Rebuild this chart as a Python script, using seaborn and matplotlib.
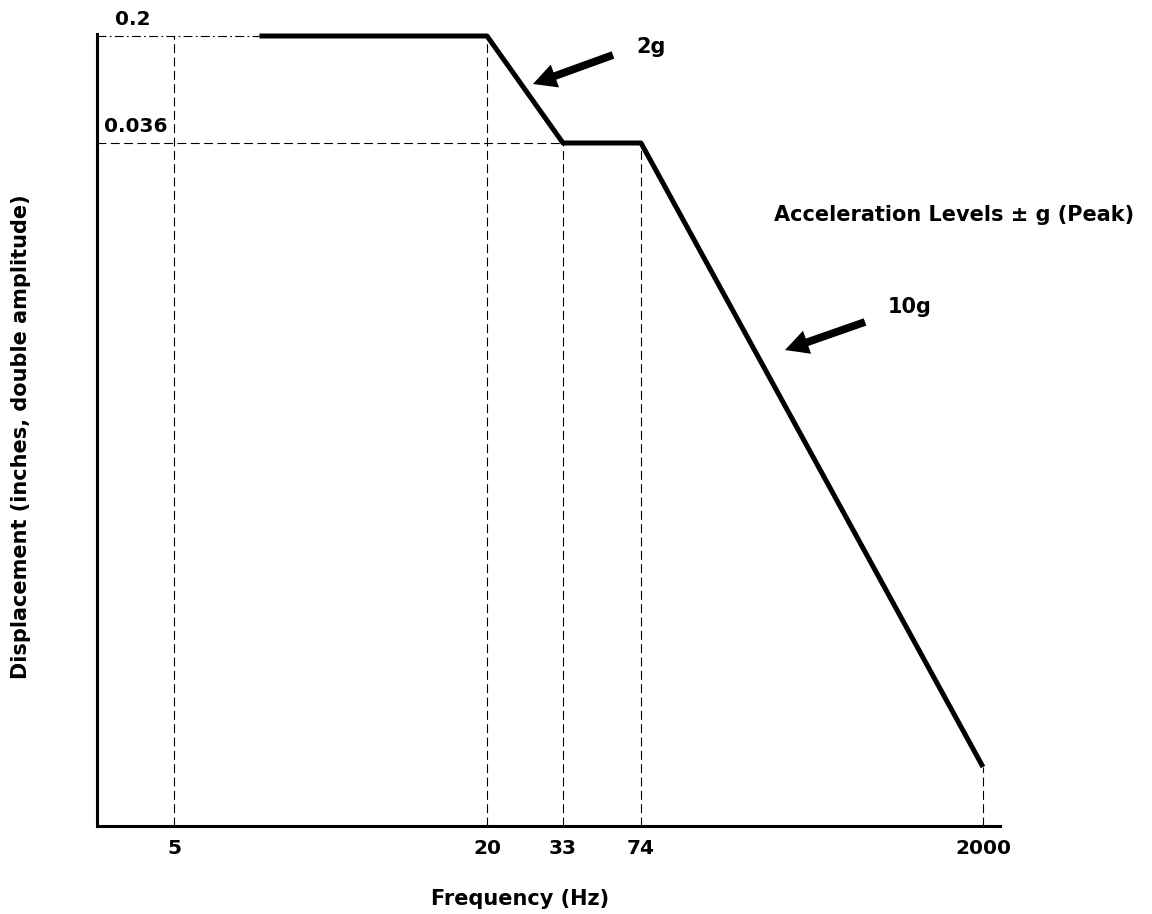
import numpy as np
import seaborn as sns
import matplotlib.pyplot as plt

# vibration test envelope (schematic, axes are not to scale)
freq = [7.3, 20, 33, 74, 2000]                      # Hz
disp = [0.2, 0.2, 0.036, 0.036, 4.89e-5]            # inches, double amplitude
tick_freq = [5, 20, 33, 74, 2000]
tick_labels = ["5", "20", "33", "74", "2000"]
level_labels = ["0.2", "0.036"]
level_values = [0.2, 0.036]

# schematic axis mapping (log value -> drawn position)
x_anchor_f = np.log10([1, 5, 20, 33, 74, 2000, 10000])
x_anchor_p = [0, 174, 487, 563, 641, 983, 1100]
y_anchor_d = np.log10([1e-6, 4.89e-5, 0.036, 0.2, 1.0])
y_anchor_p = [-100, 59, 683, 790, 900]


def fx(v):
    return np.interp(np.log10(np.clip(v, 1e-12, None)), x_anchor_f, x_anchor_p)


def fx_inv(p):
    return 10 ** np.interp(p, x_anchor_p, x_anchor_f)


def fy(v):
    return np.interp(np.log10(np.clip(v, 1e-12, None)), y_anchor_d, y_anchor_p)


def fy_inv(p):
    return 10 ** np.interp(p, y_anchor_p, y_anchor_d)


sns.set_style("ticks")
plt.rcParams['font.family'] = ['DejaVu Sans']
plt.rcParams['text.color'] = 'black'
plt.rcParams['axes.labelcolor'] = 'black'
plt.rcParams['xtick.color'] = 'black'

fig = plt.figure(figsize=(11.52, 9.14), dpi=100)
ax = fig.add_axes([97 / 1152, 1 - 826 / 914, 903 / 1152, 792 / 914])
ax.set_xscale('function', functions=(fx, fx_inv))
ax.set_yscale('function', functions=(fy, fy_inv))
xlo, xhi = fx_inv(97), fx_inv(1000)
ylo, yhi = fy_inv(0), fy_inv(792)
ax.set_xlim(xlo, xhi)
ax.set_ylim(ylo, yhi)

sns.lineplot(x=freq, y=disp, ax=ax, color="black", lw=3.6, estimator=None,
             clip_on=False, solid_capstyle="butt", zorder=5)

# guide lines
dash = (0, (8, 4))
ax.plot([tick_freq[0], tick_freq[0]], [ylo, disp[0]], color="black", lw=0.8, ls=dash)
for f, d in zip(freq[1:], disp[1:]):
    ax.plot([f, f], [ylo, d], color="black", lw=0.8, ls=dash)
ax.plot([xlo, freq[0]], [disp[0], disp[0]], color="black", lw=0.8, ls=(0, (8, 3, 1.5, 3)))
ax.plot([xlo, freq[2]], [disp[2], disp[2]], color="black", lw=0.8, ls=dash)

# level labels
tr = ax.get_yaxis_transform()
ax.annotate(level_labels[0], xy=(0, level_values[0]), xycoords=tr, xytext=(13, 5),
            textcoords="offset points", fontsize=14.5, fontweight="bold", va="bottom")
ax.annotate(level_labels[1], xy=(0, level_values[1]), xycoords=tr, xytext=(5, 5),
            textcoords="offset points", fontsize=14.5, fontweight="bold", va="bottom")

# arrows and notes
arrow = dict(arrowstyle="simple,head_length=1.2,head_width=1.25,tail_width=0.4",
             mutation_scale=14, lw=0, fc="black", ec="black", shrinkA=0, shrinkB=0)
ax.annotate("", xy=(0.4828, 0.9369), xytext=(0.5714, 0.9735), xycoords="axes fraction",
            arrowprops=arrow)
ax.text(0.6135, 0.984, "2g", transform=ax.transAxes, fontsize=15, fontweight="bold",
        ha="center", va="center")
ax.annotate("", xy=(0.7619, 0.601), xytext=(0.8505, 0.6364), xycoords="axes fraction",
            arrowprops=arrow)
ax.text(0.9003, 0.6553, "10g", transform=ax.transAxes, fontsize=15, fontweight="bold",
        ha="center", va="center")
ax.text(0.949, 0.7715, "Acceleration Levels \u00b1 g (Peak)", transform=ax.transAxes,
        fontsize=15, fontweight="bold", ha="center", va="center", clip_on=False)

ax.set_xticks(tick_freq)
ax.set_xticklabels(tick_labels, fontsize=14.5, fontweight="bold")
ax.xaxis.set_minor_locator(plt.NullLocator())
ax.yaxis.set_minor_locator(plt.NullLocator())
ax.set_yticks([])
ax.tick_params(axis="x", length=0, pad=9)

ax.set_xlabel("Frequency (Hz)", fontsize=15, fontweight="bold")
ax.xaxis.set_label_coords(0.469, -0.08)
ax.set_ylabel("Displacement (inches, double amplitude)", fontsize=15, fontweight="bold")
ax.yaxis.set_label_coords(-0.073, 0.492)

sns.despine(ax=ax)
ax.spines["left"].set_linewidth(2.2)
ax.spines["bottom"].set_linewidth(2.2)
ax.spines["left"].set_color("black")
ax.spines["bottom"].set_color("black")

fig.savefig("out.png", dpi=100)
